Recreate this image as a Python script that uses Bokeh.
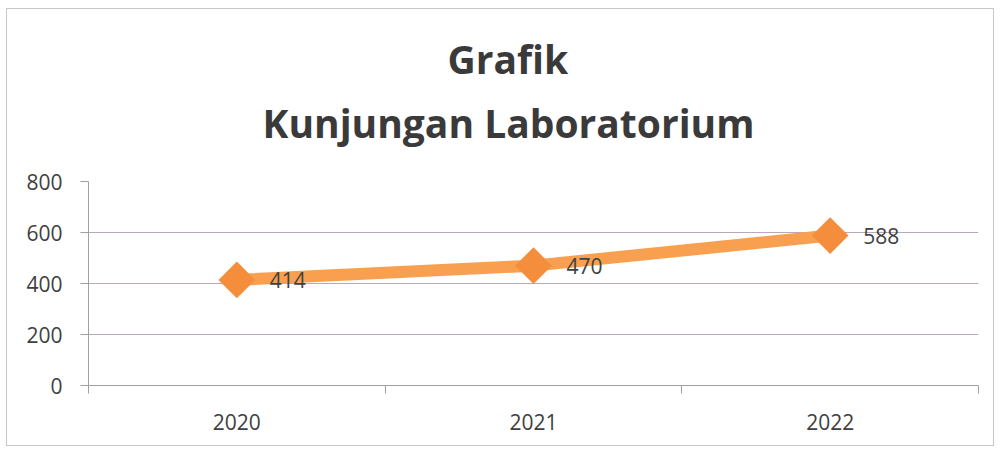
from bokeh.plotting import figure
from bokeh.models import Range1d, FixedTicker, Title, ColumnDataSource
from bokeh.embed import file_html
from bokeh.resources import INLINE
import numpy as np

categories = ["2020", "2021", "2022"]
visits = [414, 470, 588]
y_ticks = [0, 200, 400, 600, 800]
title_line1 = "Grafik"
title_line2 = "Kunjungan Laboratorium"

xpos = [i + 0.5 for i in range(len(categories))]
src = ColumnDataSource(dict(x=xpos, y=visits, lbl=[str(v) for v in visits]))

FONT = "Open Sans"
TXT = "#404040"

p = figure(width=988, height=438, output_backend="svg", toolbar_location=None,
           x_range=Range1d(0, len(categories)), y_range=Range1d(0, 800),
           min_border_left=81, min_border_right=17, min_border_top=172, min_border_bottom=62,
           title=None)
p.styles = {"border": "1px solid #c8c8c8", "margin-left": "6px", "margin-top": "8px"}
p.outline_line_color = None
p.background_fill_color = "white"
p.border_fill_color = "white"

spacer = Title(text=" ", align="left", text_font=FONT, text_font_size="10px",
               text_color="white", standoff=12)
t2 = Title(text=title_line2, align="left", text_font=FONT, text_font_size="39px",
           text_font_style="bold", text_color="#3a3a3a", offset=174, standoff=9)
t1 = Title(text=title_line1, align="left", text_font=FONT, text_font_size="39px",
           text_font_style="bold", text_color="#3a3a3a", offset=359)
p.add_layout(spacer, "above")
p.add_layout(t2, "above")
p.add_layout(t1, "above")

# x axis
xa = p.xaxis[0]
xa.ticker = FixedTicker(ticks=xpos, minor_ticks=list(range(len(categories) + 1)))
xa.major_label_overrides = {x: c for x, c in zip(xpos, categories)}
xa.major_tick_out = 0
xa.major_tick_in = 0
xa.minor_tick_out = 8
xa.minor_tick_in = 0
xa.minor_tick_line_color = "#a0a0a0"
xa.axis_line_color = "#a0a0a0"
xa.major_label_text_font = FONT
xa.major_label_text_font_size = "21px"
xa.major_label_text_color = TXT
xa.major_label_standoff = 20

ya = p.yaxis[0]
ya.ticker = FixedTicker(ticks=y_ticks)
ya.major_tick_out = 8
ya.major_tick_in = 0
ya.minor_tick_out = 0
ya.minor_tick_in = 0
ya.major_tick_line_color = "#a0a0a0"
ya.axis_line_color = "#a0a0a0"
ya.major_label_text_font = FONT
ya.major_label_text_font_size = "21px"
ya.major_label_text_color = TXT
ya.major_label_standoff = 18

p.xgrid.grid_line_color = None
p.ygrid.grid_line_color = "#b8a8b8"
p.ygrid.grid_line_width = 1

p.line("x", "y", source=src, line_color="#F8A050", line_width=12, line_join="round")
p.scatter("x", "y", source=src, marker="square", angle=np.pi / 4, size=26,
          fill_color="#F48E3C", line_color=None)
p.text("x", "y", text="lbl", source=src, x_offset=33, text_baseline="middle",
       text_align="left", text_font={"value": FONT}, text_font_size="21px", text_color=TXT)

open("out.html", "w").write(file_html(p, INLINE))
